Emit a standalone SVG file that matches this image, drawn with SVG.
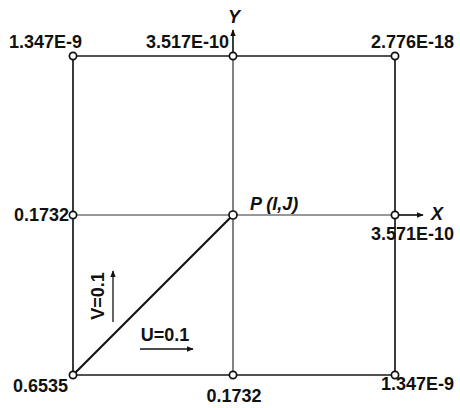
<svg xmlns="http://www.w3.org/2000/svg" width="460" height="408" viewBox="0 0 460 408">
<defs>
<style>
text{font-family:"Liberation Sans",Arial,sans-serif;font-weight:bold;font-size:18px;fill:#111}
.it{font-style:italic}
.g{stroke:#1a1a1a;stroke-width:1.7;fill:none}
.gm{stroke:#333;stroke-width:1.2;fill:none}
.n{fill:#fff;stroke:#111;stroke-width:1.7}
</style>
<marker id="ah" viewBox="0 0 10 10" refX="9" refY="5" markerWidth="7" markerHeight="7" markerUnits="userSpaceOnUse" orient="auto"><path d="M0,1 L10,5 L0,9 Z" fill="#111"/></marker>
</defs>
<rect width="460" height="408" fill="#fff"/>
<g id="connectors">
<path class="g" d="M73,56 H395 M73,375 H395 M73,56 V375 M395,56 V375"/>
<path class="gm" d="M233,56 V375 M73,215 H395"/>
<path class="g" d="M233,56 V30" marker-end="url(#ah)"/>
<path class="g" d="M395,215 H423" marker-end="url(#ah)"/>
<path d="M73,375 L233,215" stroke="#111" stroke-width="2.2"/>
<path stroke="#111" stroke-width="1.3" d="M113,322 V271" marker-end="url(#ah)"/>
<path stroke="#111" stroke-width="1.3" d="M140,349 H193" marker-end="url(#ah)"/>
</g>
<g id="n-tl"><circle class="n" cx="73" cy="56" r="3.6"/><text x="82" y="48" text-anchor="end">1.347E-9</text></g>
<g id="n-tm"><circle class="n" cx="233" cy="56" r="3.6"/><text x="229" y="48" text-anchor="end">3.517E-10</text></g>
<g id="n-tr"><circle class="n" cx="395" cy="56" r="3.6"/><text x="454" y="48" text-anchor="end">2.776E-18</text></g>
<g id="n-ml"><circle class="n" cx="73" cy="215" r="3.6"/><text x="69" y="221" text-anchor="end">0.1732</text></g>
<g id="n-p"><circle class="n" cx="233" cy="215" r="4" stroke-width="2.3"/><text class="it" x="250" y="210">P (I,J)</text></g>
<g id="n-mr"><circle class="n" cx="395" cy="215" r="3.6"/><text x="454" y="240" text-anchor="end">3.571E-10</text></g>
<g id="n-bl"><circle class="n" cx="73" cy="375" r="3.6"/><text x="68" y="392" text-anchor="end">0.6535</text></g>
<g id="n-bm"><circle class="n" cx="233" cy="375" r="3.6"/><text x="234" y="402" text-anchor="middle">0.1732</text></g>
<g id="n-br"><circle class="n" cx="395" cy="375" r="3.6"/><text x="454" y="390" text-anchor="end">1.347E-9</text></g>
<g id="axes-labels">
<text class="it" x="234" y="23" text-anchor="middle">Y</text>
<text class="it" x="437" y="220" text-anchor="middle">X</text>
<text x="0" y="0" transform="translate(104,296) rotate(-90)" text-anchor="middle">V=0.1</text>
<text x="165" y="341" text-anchor="middle">U=0.1</text>
</g>
</svg>
